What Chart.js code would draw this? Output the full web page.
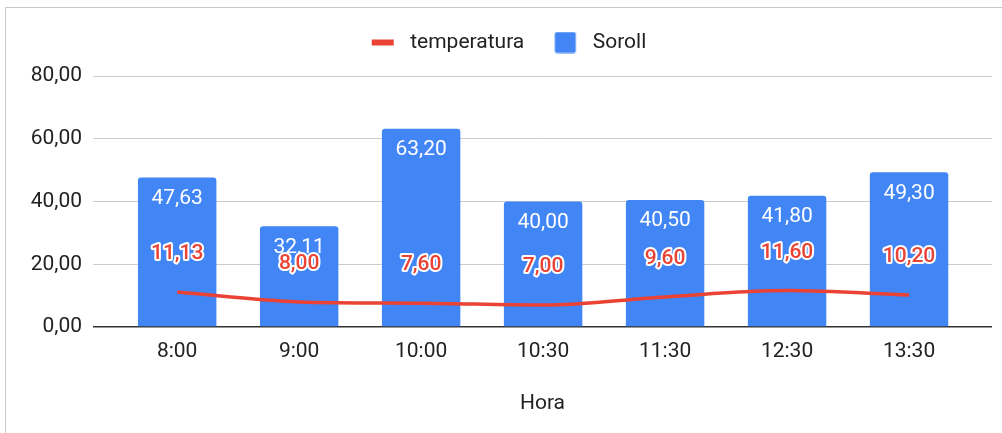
<!DOCTYPE html>
<html lang="ca">
<head>
<meta charset="utf-8">
<title>Soroll i temperatura per hora</title>
<script src="https://cdn.jsdelivr.net/npm/chart.js@4.4.1/dist/chart.umd.min.js"></script>
<style>
  html, body { margin: 0; padding: 0; background: #fff; overflow: hidden; }
  .frame {
    position: absolute; left: 5px; top: 7px;
    width: 1020px; height: 450px;
    border: 1px solid #c8c8c8;
  }
  .frame canvas { position: absolute; left: 0; top: 0; }
</style>
</head>
<body>
<div class="frame"><canvas id="chart" width="996" height="425"></canvas></div>
<script>
/* Mesures del dia: soroll (barres) i temperatura (línia) */
const HOURS = ["8:00", "9:00", "10:00", "10:30", "11:30", "12:30", "13:30"];
const SOROLL = [47.63, 32.11, 63.2, 40.0, 40.5, 41.8, 49.3];
const TEMPERATURA = [11.13, 8.0, 7.6, 7.0, 9.6, 11.6, 10.2];
const Y_TICKS = [0, 20, 40, 60, 80];

const BLUE = "#4285f4";
const RED = "#ea4335";
const INK = "#222";
const GRID = "#cccccc";
const FONT = "Roboto, 'Noto Sans', sans-serif";

/* 47.63 -> "47,63" */
const fmt = (v) => Number(v).toFixed(2).replace(".", ",");

/* Marques de la llegenda: el llenç és ample i la marca va a la dreta,
   així queda l'espai de Google entre elements */
function legendMarker(draw) {
  const c = document.createElement("canvas");
  c.width = 48;
  c.height = 22;
  draw(c.getContext("2d"));
  return c;
}
const LINE_MARK = legendMarker((g) => {
  g.fillStyle = RED;
  g.fillRect(20, 8, 22, 6);
});
const BAR_MARK = legendMarker((g) => {
  g.fillStyle = BLUE;
  g.beginPath();
  g.roundRect(20.5, 0.5, 21, 21, 2);
  g.fill();
});

/* Etiquetes de valor: blanques dins la barra, vermelles amb halo per la línia */
const valueLabels = {
  id: "valueLabels",
  afterDatasetsDraw(chart) {
    const ctx = chart.ctx;
    ctx.save();
    ctx.textAlign = "center";
    ctx.textBaseline = "middle";

    ctx.font = `21px ${FONT}`;
    ctx.fillStyle = "#fff";
    chart.getDatasetMeta(1).data.forEach((bar, i) => {
      ctx.fillText(fmt(SOROLL[i]), bar.x, bar.y + 21);
    });

    ctx.font = `500 21px ${FONT}`;
    ctx.lineJoin = "round";
    chart.getDatasetMeta(0).data.forEach((pt, i) => {
      const label = fmt(TEMPERATURA[i]);
      ctx.lineWidth = 4;
      ctx.strokeStyle = "#fff";
      ctx.strokeText(label, pt.x, pt.y - 38);
      ctx.fillStyle = RED;
      ctx.fillText(label, pt.x, pt.y - 38);
    });
    ctx.restore();
  },
};

Chart.defaults.font.family = FONT;
Chart.defaults.color = INK;

new Chart(document.getElementById("chart"), {
  type: "bar",
  data: {
    datasets: [
      {
        type: "line",
        label: "temperatura",
        data: TEMPERATURA.map((y, x) => ({ x, y })),
        borderColor: RED,
        borderWidth: 3.5,
        pointRadius: 0,
        cubicInterpolationMode: "monotone",
        order: 0,
      },
      {
        label: "Soroll",
        data: SOROLL.map((y, x) => ({ x, y })),
        backgroundColor: BLUE,
        borderRadius: { topLeft: 3, topRight: 3 },
        borderSkipped: "start",
        categoryPercentage: 1,
        barPercentage: 0.643,
        order: 1,
      },
    ],
  },
  options: {
    responsive: false,
    animation: false,
    layout: { padding: { top: 14, right: 10, bottom: 0, left: 0 } },
    plugins: {
      legend: {
        position: "top",
        labels: {
          usePointStyle: true,
          pointStyleWidth: 48,
          padding: 10,
          color: INK,
          font: { size: 21 },
          generateLabels: () => [
            { text: "temperatura", pointStyle: LINE_MARK, fontColor: INK, datasetIndex: 0, lineWidth: 0 },
            { text: "Soroll", pointStyle: BAR_MARK, fontColor: INK, datasetIndex: 1, lineWidth: 0 },
          ],
        },
      },
      /* separació buida entre la llegenda i la gràfica */
      subtitle: {
        display: true,
        text: "",
        weight: 500,
        padding: 0,
        font: { size: 13, lineHeight: 1 },
      },
      tooltip: { enabled: false },
    },
    scales: {
      x: {
        type: "linear",
        min: -0.69,
        max: 6.68,
        offset: false,
        afterBuildTicks: (s) => { s.ticks = HOURS.map((_, i) => ({ value: i })); },
        afterFit: (s) => { s.height = 106; },
        ticks: {
          padding: 4,
          color: INK,
          font: { size: 21, lineHeight: 1.2 },
          callback: (v) => HOURS[v],
        },
        grid: { display: false },
        border: { display: false },
        title: {
          display: true,
          text: "Hora",
          color: INK,
          font: { size: 21, lineHeight: 1.2 },
          padding: { top: 0, bottom: 17 },
        },
      },
      y: {
        min: 0,
        max: 80,
        afterBuildTicks: (s) => { s.ticks = Y_TICKS.map((value) => ({ value })); },
        afterFit: (s) => { s.width = 87; },
        ticks: {
          padding: 11,
          color: INK,
          font: { size: 21 },
          callback: (v) => fmt(v),
        },
        grid: {
          drawTicks: false,
          color: (c) => (c.tick && c.tick.value === 0 ? "#333" : GRID),
          lineWidth: (c) => (c.tick && c.tick.value === 0 ? 1.5 : 1),
        },
        border: { display: false },
      },
    },
  },
  plugins: [valueLabels],
});
</script>
</body>
</html>
